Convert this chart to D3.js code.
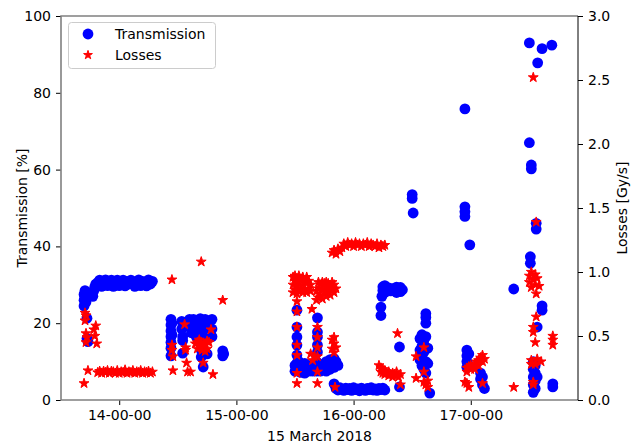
<!DOCTYPE html>
<meta charset='utf-8'>
<style>
body {
    margin: 0;
    background: #fff;
}

text {
    font-family: 'DejaVu Sans', sans-serif;
    font-size: 14px;
    fill: #000;
}
</style>

<body>
    <div class='chart'></div>
    <script src='https://d3js.org/d3.v7.min.js'></script>
    <script>
    // transmission [%] readings, [time, value]
    var transmission = [
        ['13:42', 24.5], ['13:42', 26], ['13:42', 27.5], ['13:42:30', 28.5], ['13:43', 25.5], ['13:43', 27],
        ['13:43:30', 21.3], ['13:43:30', 16], ['13:44', 15.2],
        ['13:46:30', 27], ['13:47', 28.5], ['13:47:30', 29.5], ['13:48', 30.2],
        ['13:49', 30.6], ['13:50', 31.2], ['13:51', 29.6], ['13:52', 30.9], ['13:53', 31.3], ['13:54', 29.8],
        ['13:55', 30.8], ['13:56', 31.2], ['13:57', 29.6], ['13:58', 30.7], ['13:59', 31.2], ['14:00', 29.8],
        ['14:01', 30.6], ['14:02', 31.2], ['14:03', 29.7], ['14:04', 30.8], ['14:05', 30.2], ['14:06', 31.2],
        ['14:07', 30.4], ['14:08', 29.6], ['14:09', 30.7], ['14:10', 31.3], ['14:11', 29.8], ['14:12', 30.9],
        ['14:13', 30.3], ['14:14', 29.7], ['14:15', 31.3], ['14:16', 30.2], ['14:17', 30.9],

        ['14:26:30', 21], ['14:26:30', 19.5], ['14:26:30', 18], ['14:26:30', 16.5], ['14:26:30', 15],
        ['14:26:30', 13.5], ['14:26:30', 11.5], ['14:27', 20], ['14:27', 17],
        ['14:32', 20.5], ['14:32', 18.5], ['14:32:30', 16.5], ['14:32:30', 15.5], ['14:32:30', 12.2], ['14:33', 19.5],
        ['14:36', 21], ['14:36', 19], ['14:37', 20.5], ['14:37', 17.5], ['14:38', 21], ['14:38', 18],
        ['14:39:30', 20], ['14:39:30', 16.5], ['14:41:30', 21.2], ['14:41:30', 19], ['14:41:30', 17],
        ['14:42', 15], ['14:42', 13], ['14:42', 11.2], ['14:43', 8.6],
        ['14:44', 21], ['14:44', 18.5], ['14:44', 16], ['14:45', 20], ['14:45', 12],
        ['14:47:30', 21], ['14:47:30', 18.5], ['14:47:30', 16.5],
        ['14:53', 12.8], ['14:53', 11.5], ['14:53:30', 12],

        ['15:31', 23.4], ['15:31', 19], ['15:31', 16.4], ['15:31', 14.3], ['15:31', 11.7], ['15:31', 9.6],
        ['15:30', 7.5], ['15:30', 9], ['15:32', 8], ['15:32', 10], ['15:33', 7.2], ['15:34', 8.5],
        ['15:35', 7], ['15:35', 9.5], ['15:36', 8], ['15:37', 7.5], ['15:38', 9], ['15:39', 7.5], ['15:40', 8.5],
        ['15:41', 10], ['15:41', 7.5], ['15:41:30', 21.4], ['15:41:30', 17.7], ['15:41:30', 16.4],
        ['15:41:30', 14.3], ['15:41:30', 12.5],
        ['15:42', 8], ['15:42', 9.5], ['15:43', 7.5], ['15:44', 9], ['15:45', 8], ['15:46', 10], ['15:46', 7.5],
        ['15:47', 9], ['15:48', 10.5], ['15:48', 8], ['15:49', 9.5], ['15:50', 10.8], ['15:50', 8.5],
        ['15:51', 10], ['15:52', 9],
        ['15:50', 4.2], ['15:51', 3], ['15:52', 2.6], ['15:53', 3.2], ['15:54', 2.8], ['15:55', 2.5],
        ['15:56', 3.1], ['15:57', 2.7], ['15:58', 3], ['15:59', 2.5], ['16:00', 3.2], ['16:01', 2.7],
        ['16:02', 2.9], ['16:03', 2.4], ['16:04', 3.1], ['16:05', 2.8], ['16:06', 2.5], ['16:07', 3],
        ['16:08', 2.7], ['16:09', 3.2], ['16:10', 2.6], ['16:11', 2.9], ['16:12', 2.5], ['16:13', 3],
        ['16:14', 2.7], ['16:15', 3.1], ['16:16', 2.6],

        ['16:14', 22], ['16:14', 24.2], ['16:14:30', 27], ['16:15', 28.5], ['16:15', 29.5], ['16:16', 28],
        ['16:16', 29.8], ['16:17', 28.6], ['16:18', 29.2], ['16:19', 28.4], ['16:20', 29], ['16:21', 28.6],
        ['16:22', 29.4], ['16:22', 28], ['16:23', 28.8], ['16:24', 29.3], ['16:24', 28.2], ['16:25', 28.7],
        ['16:23:30', 13.8], ['16:23:30', 3.4],

        ['16:30', 53.5], ['16:30', 52.5], ['16:30:30', 48.7],
        ['16:37', 22.5], ['16:37', 21.5], ['16:37', 20],
        ['16:34', 16], ['16:34', 13], ['16:34', 10.5], ['16:35', 17], ['16:35', 14], ['16:35', 11.5], ['16:35', 9],
        ['16:36', 15.5], ['16:36', 12.5], ['16:36', 8], ['16:37', 16.5], ['16:37', 10], ['16:37', 7],
        ['16:38', 13.5], ['16:38', 9.5], ['16:39', 1.8],

        ['16:57', 75.8], ['16:57', 50.3], ['16:57', 49], ['16:57', 47.8], ['16:59:30', 40.4],
        ['16:58', 13], ['16:58', 11.5], ['16:58', 10], ['16:58', 8.5], ['16:59', 12], ['16:59', 9],
        ['17:05', 7], ['17:05', 5.5], ['17:06', 6], ['17:06', 4], ['17:07', 3],

        ['17:22', 28.9], ['17:30', 93], ['17:30', 67], ['17:31', 61.2], ['17:31', 60.2],
        ['17:33:30', 44.5], ['17:33:30', 46], ['17:30:30', 37.3], ['17:30:30', 35.6],
        ['17:34:15', 87.8], ['17:36:30', 91.5], ['17:41:30', 92.4],
        ['17:36:30', 24.5], ['17:36:30', 23.4], ['17:34', 19],
        ['17:32', 10], ['17:32', 8], ['17:32', 6], ['17:32', 4], ['17:32', 2],
        ['17:33', 9], ['17:33', 7], ['17:33', 5], ['17:33', 3], ['17:34', 6],
        ['17:42', 3.4], ['17:42', 4.2]
    ];

    // losses [Gy/s] readings, [time, value]
    var losses = [
        ['13:42', 0.13], ['13:42:30', 0.62], ['13:42:30', 0.68], ['13:43', 0.66], ['13:43', 0.52], ['13:43', 0.45],
        ['13:43:30', 0.49], ['13:44', 0.23], ['13:47', 0.55], ['13:47:30', 0.5], ['13:48', 0.58], ['13:48:30', 0.44],
        ['13:49', 0.215], ['13:50', 0.225], ['13:51', 0.21], ['13:52', 0.225], ['13:53', 0.215], ['13:54', 0.23],
        ['13:55', 0.21], ['13:56', 0.225], ['13:57', 0.22], ['13:58', 0.21], ['13:59', 0.23], ['14:00', 0.21],
        ['14:01', 0.22], ['14:02', 0.215], ['14:03', 0.235], ['14:04', 0.21], ['14:05', 0.22], ['14:06', 0.215],
        ['14:07', 0.23], ['14:08', 0.21], ['14:09', 0.22], ['14:10', 0.215], ['14:11', 0.23], ['14:12', 0.21],
        ['14:13', 0.22], ['14:14', 0.215], ['14:15', 0.225], ['14:16', 0.21], ['14:17', 0.22],

        ['14:27', 0.94], ['14:27', 0.43], ['14:27', 0.39], ['14:27:30', 0.34], ['14:27:30', 0.23],
        ['14:33:30', 0.59], ['14:34', 0.39], ['14:34', 0.41], ['14:34:30', 0.29], ['14:35', 0.22], ['14:36:30', 0.22],
        ['14:39', 0.44], ['14:40', 0.45], ['14:40', 0.4], ['14:41', 0.42], ['14:41', 0.47],
        ['14:42', 1.08], ['14:42', 0.45], ['14:42:30', 0.39], ['14:43', 0.29], ['14:43', 0.42],
        ['14:44', 0.44], ['14:44', 0.38], ['14:45', 0.4], ['14:45', 0.46], ['14:46', 0.45],
        ['14:47', 0.55], ['14:48', 0.2], ['14:53', 0.78],

        ['15:29', 0.84], ['15:29', 0.9], ['15:29', 0.96], ['15:30', 0.86], ['15:30', 0.93], ['15:30', 0.97],
        ['15:31', 0.83], ['15:31', 0.89], ['15:31', 0.95], ['15:32', 0.85], ['15:32', 0.92], ['15:32', 0.97],
        ['15:33', 0.87], ['15:33', 0.94], ['15:34', 0.84], ['15:34', 0.9], ['15:34', 0.96],
        ['15:35', 0.86], ['15:35', 0.93], ['15:36', 0.84], ['15:36', 0.91], ['15:36', 0.96],
        ['15:37', 0.87], ['15:37', 0.93], ['15:38', 0.85], ['15:38', 0.9],
        ['15:31', 0.77], ['15:31', 0.69], ['15:31', 0.57], ['15:31', 0.43], ['15:31', 0.35], ['15:31', 0.21], ['15:31', 0.13],
        ['15:38:40', 0.71], ['15:38', 0.36], ['15:39', 0.31], ['15:40', 0.34],
        ['15:41:30', 0.57], ['15:41:30', 0.49], ['15:41:30', 0.41], ['15:41:30', 0.34], ['15:41:30', 0.22], ['15:41:30', 0.13],
        ['15:41', 0.78], ['15:41', 0.85], ['15:42', 0.8], ['15:42', 0.87], ['15:42', 0.92], ['15:43', 0.82], ['15:43', 0.9],
        ['15:44', 0.79], ['15:44', 0.86], ['15:44', 0.92], ['15:45', 0.84], ['15:45', 0.91], ['15:46', 0.81],
        ['15:46', 0.88], ['15:46', 0.92], ['15:47', 0.85], ['15:47', 0.91], ['15:48', 0.82], ['15:48', 0.89],
        ['15:49', 0.86], ['15:49', 0.92], ['15:50', 0.84], ['15:50', 0.9], ['15:51', 0.87],
        ['15:49', 0.4], ['15:49', 0.47], ['15:50', 0.37], ['15:50', 0.44], ['15:50', 0.49], ['15:51', 0.41], ['15:50:30', 0.1],
        ['15:49', 1.15], ['15:50', 1.17], ['15:51', 1.14], ['15:52', 1.18], ['15:53', 1.16], ['15:54', 1.19],
        ['15:55', 1.22], ['15:56', 1.2], ['15:57', 1.23], ['15:58', 1.21], ['15:59', 1.22], ['16:00', 1.2],
        ['16:01', 1.23], ['16:02', 1.21], ['16:03', 1.22], ['16:04', 1.2], ['16:05', 1.22], ['16:06', 1.21],
        ['16:07', 1.23], ['16:08', 1.2], ['16:09', 1.22], ['16:10', 1.21], ['16:11', 1.2], ['16:12', 1.22],
        ['16:13', 1.19], ['16:14', 1.21], ['16:15', 1.2], ['16:16', 1.21],

        ['16:13', 0.27], ['16:14', 0.25], ['16:14', 0.22], ['16:15', 0.21], ['16:15', 0.24], ['16:16', 0.2],
        ['16:16', 0.23], ['16:17', 0.21], ['16:18', 0.19], ['16:18', 0.22], ['16:19', 0.2], ['16:20', 0.21],
        ['16:20', 0.18], ['16:21', 0.2], ['16:22', 0.19], ['16:22', 0.22], ['16:23', 0.18], ['16:24', 0.12],
        ['16:24', 0.2], ['16:22:30', 0.52],

        ['16:36', 0.41], ['16:32', 0.34], ['16:36', 0.22], ['16:32', 0.17], ['16:36', 0.14], ['16:37', 0.12],
        ['16:38', 0.1], ['16:38', 0.15],

        ['16:57', 0.14], ['16:58', 0.25], ['16:58', 0.22], ['16:58', 0.13], ['16:59', 0.1], ['16:59', 0.26],
        ['17:00', 0.24], ['17:00', 0.27], ['17:01', 0.26], ['17:02', 0.28], ['17:02', 0.24], ['17:03', 0.3],
        ['17:04', 0.31], ['17:04', 0.27], ['17:05', 0.33], ['17:06', 0.35], ['17:06', 0.3], ['17:07', 0.32],
        ['17:06', 0.13],

        ['17:22', 0.1], ['17:32', 2.52], ['17:33:30', 1.39],
        ['17:30', 0.92], ['17:30', 0.97], ['17:31', 0.88], ['17:31', 1.0], ['17:32', 0.94], ['17:33', 0.9],
        ['17:33', 0.98], ['17:34', 0.95], ['17:35', 0.89], ['17:33:30', 0.83], ['17:33:30', 0.65],
        ['17:32', 0.57], ['17:32', 0.53], ['17:33', 0.45], ['17:42', 0.47], ['17:42', 0.43], ['17:42', 0.5],
        ['17:31', 0.31], ['17:31', 0.28], ['17:36', 0.3], ['17:34', 0.32], ['17:33', 0.28],
        ['17:32', 0.14], ['17:32', 0.12]
    ];

    var leftTicks = [0, 20, 40, 60, 80, 100];
    var rightTicks = [0, 0.5, 1.0, 1.5, 2.0, 2.5, 3.0];
    var hourTicks = ['14:00', '15:00', '16:00', '17:00'];
    var timeRange = ['13:30:12', '17:54:54'];
    var day = '2018-03-15';

    var parseLong = d3.timeParse('%Y-%m-%d %H:%M:%S'),
        parseShort = d3.timeParse('%Y-%m-%d %H:%M');

    function toDate(s) {
        return parseLong(day + ' ' + s) || parseShort(day + ' ' + s);
    }

    var width = 638, height = 446;
    var padLeft = 61, padRight = 578, padTop = 16, padBottom = 400;

    var svg = d3.select('.chart').append('svg')
        .attr('width', width)
        .attr('height', height);

    var x = d3.scaleTime()
        .domain(timeRange.map(toDate))
        .range([padLeft, padRight]);

    var yT = d3.scaleLinear().domain([0, 100]).range([padBottom, padTop]);
    var yL = d3.scaleLinear().domain([0, 3]).range([padBottom, padTop]);

    var plot = svg.append('g');

    plot.selectAll('.trans')
        .data(transmission)
        .enter().append('circle')
        .attr('class', 'trans')
        .attr('cx', function(d) { return x(toDate(d[0])); })
        .attr('cy', function(d) { return yT(d[1]); })
        .attr('r', 5.4)
        .style('fill', '#0000ff');

    var star = d3.symbol().type(d3.symbolStar).size(30);

    plot.selectAll('.loss')
        .data(losses)
        .enter().append('path')
        .attr('class', 'loss')
        .attr('d', star)
        .attr('transform', function(d) {
            return 'translate(' + x(toDate(d[0])) + ',' + yL(d[1]) + ')';
        })
        .style('fill', '#ff0000')
        .style('stroke', '#ff0000')
        .style('stroke-width', 1);

    // axes
    var xAxis = d3.axisBottom(x)
        .tickValues(hourTicks.map(toDate))
        .tickFormat(d3.timeFormat('%H-%M-%S'))
        .tickSize(5)
        .tickPadding(5);

    var gx = svg.append('g')
        .attr('transform', 'translate(0,' + padBottom + ')')
        .call(xAxis);

    var gl = svg.append('g')
        .attr('transform', 'translate(' + padLeft + ',0)')
        .call(d3.axisLeft(yT).tickValues(leftTicks).tickSize(5).tickPadding(5));

    var gr = svg.append('g')
        .attr('transform', 'translate(' + padRight + ',0)')
        .call(d3.axisRight(yL).tickValues(rightTicks).tickFormat(d3.format('.1f')).tickSize(5).tickPadding(5));

    [gx, gl, gr].forEach(function(g) {
        g.select('.domain').remove();
        g.selectAll('text').attr('font-size', null).attr('font-family', null).style('font-size', '14px');
        g.selectAll('line').style('stroke', '#000').style('stroke-width', 1);
    });

    // frame
    svg.append('path')
        .attr('d', 'M' + padRight + ',' + padTop + 'H' + padLeft + 'V' + padBottom + 'H' + padRight)
        .style('fill', 'none')
        .style('stroke', '#808080')
        .style('stroke-width', 1.6);

    svg.append('line')
        .attr('x1', padRight).attr('x2', padRight)
        .attr('y1', padTop).attr('y2', padBottom)
        .style('stroke', '#000')
        .style('stroke-width', 1);

    // axis labels
    svg.append('text')
        .attr('transform', 'translate(22,' + (padTop + padBottom) / 2 + ') rotate(-90)')
        .attr('text-anchor', 'middle')
        .attr('dy', '0.35em')
        .text('Transmission [%]');

    svg.append('text')
        .attr('transform', 'translate(622,' + (padTop + padBottom) / 2 + ') rotate(-90)')
        .attr('text-anchor', 'middle')
        .attr('dy', '0.35em')
        .text('Losses [Gy/s]');

    svg.append('text')
        .attr('x', (padLeft + padRight) / 2)
        .attr('y', 441)
        .attr('text-anchor', 'middle')
        .text('15 March 2018');

    // legend
    var legend = svg.append('g');

    legend.append('rect')
        .attr('x', 68.5).attr('y', 22.5)
        .attr('width', 147).attr('height', 46)
        .attr('rx', 3)
        .style('fill', 'rgba(255,255,255,0.8)')
        .style('stroke', '#cccccc');

    legend.append('circle')
        .attr('cx', 88).attr('cy', 34)
        .attr('r', 5.4)
        .style('fill', '#0000ff');

    legend.append('path')
        .attr('d', d3.symbol().type(d3.symbolStar).size(24))
        .attr('transform', 'translate(88,55)')
        .style('fill', '#ff0000')
        .style('stroke', '#ff0000');

    legend.append('text').attr('x', 115).attr('y', 34).attr('dy', '0.35em').text('Transmission');
    legend.append('text').attr('x', 115).attr('y', 55).attr('dy', '0.35em').text('Losses');
    </script>
